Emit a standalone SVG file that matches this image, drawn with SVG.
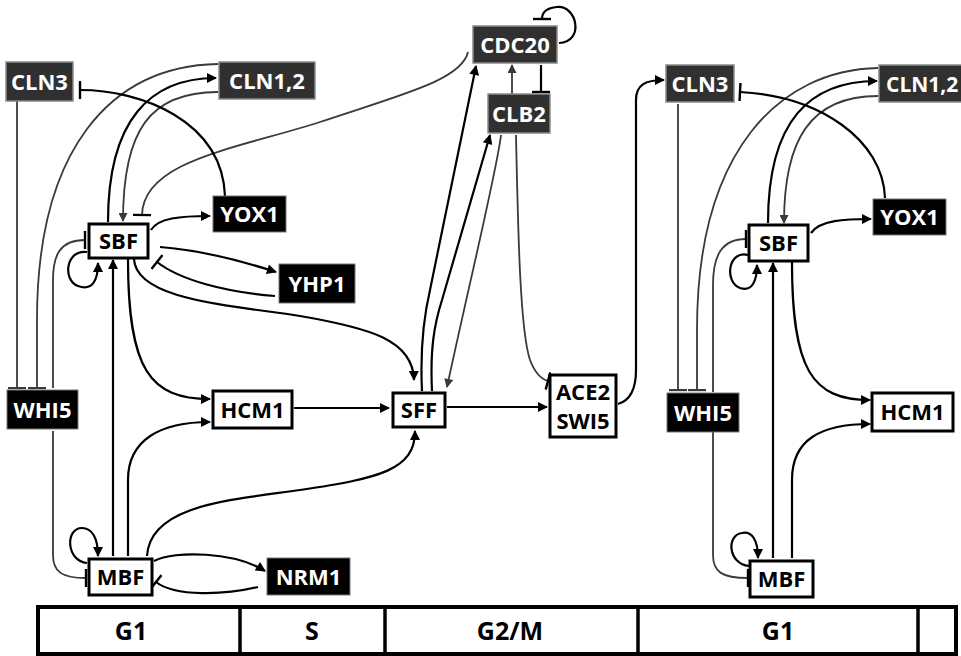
<svg xmlns="http://www.w3.org/2000/svg" width="961" height="656" viewBox="0 0 961 656">
<style>
text{font-family:"Open Sans","Liberation Sans",Arial,sans-serif;font-weight:700;text-anchor:middle}
.nt{font-size:22px}
.w{fill:#fff}
.k{fill:#000}
.dk rect{fill:#303030;stroke:#8a8a8a;stroke-width:1.5}
.bk rect{fill:#000;stroke:#777;stroke-width:1}
.wt rect{fill:#fff;stroke:#000;stroke-width:3}
.c path{fill:none;stroke:#000;stroke-width:2.2}
.c path.g{stroke:#3a3a3a;stroke-width:1.8}
.a{marker-end:url(#arr)}
.ag{marker-end:url(#arrG)}
.t{marker-end:url(#tee)}
.tg{marker-end:url(#teeG)}
.bar{fill:none;stroke:#000;stroke-width:4}
.ph{font-size:25px}
</style>
<defs>
<marker id="arr" viewBox="0 0 10 10" refX="9" refY="5" markerWidth="12" markerHeight="10" orient="auto" markerUnits="userSpaceOnUse"><path d="M0,0 L10,5 L0,10 z" fill="#000"/></marker>
<marker id="arrG" viewBox="0 0 10 10" refX="9" refY="5" markerWidth="11" markerHeight="9" orient="auto" markerUnits="userSpaceOnUse"><path d="M0,0 L10,5 L0,10 z" fill="#3a3a3a"/></marker>
<marker id="tee" viewBox="0 0 4 18" refX="2" refY="9" markerWidth="4" markerHeight="18" orient="auto" markerUnits="userSpaceOnUse"><rect x="0.8" y="0" width="2.4" height="18" fill="#000"/></marker>
<marker id="teeG" viewBox="0 0 4 18" refX="2" refY="9" markerWidth="4" markerHeight="18" orient="auto" markerUnits="userSpaceOnUse"><rect x="1" y="0" width="2.2" height="18" fill="#3a3a3a"/></marker>
</defs>
<rect width="961" height="656" fill="#fff"/>

<g id="connectors" class="c">
<!-- left cycle -->
<path class="g tg" d="M17,101 L17,388"/>
<path class="g tg" d="M218,64 C110,66 37,150 37,320 L37,388"/>
<path class="a" d="M108,222 C108,120 150,78 216,78"/>
<path class="g ag" d="M218,92 C150,92 123,130 123,221"/>
<path class="g t" d="M468,52 C462,80 400,95 320,122 C240,148 143,160 142,215"/>
<path class="t" d="M225,196 C222,120 140,90 80,90"/>
<path class="a" d="M151,230 C158,218 180,216 210,216"/>
<path class="a" d="M160,247 C200,250 245,262 276,272"/>
<path class="t" d="M275,296 C225,292 180,280 157,262"/>
<path class="a" d="M134,259 C136,300 230,305 300,316 C370,328 413,340 414,380"/>
<path class="a" d="M128,259 C128,370 150,399 210,399"/>
<path class="g t" d="M53,388 L53,280 C53,255 60,240 85,240"/>
<path class="a" d="M87,252 C66,249 62,280 78,286 C92,291 98,281 98,263"/>
<path class="a" d="M113,556 L113,260"/>
<path class="a" d="M87,563 C66,561 65,528 82,528 C92,528 98,538 98,556"/>
<path class="g t" d="M53,431 L53,555 C53,572 62,578 86,578"/>
<path class="a" d="M128,556 L128,480 C128,440 160,422 210,422"/>
<path class="a" d="M147,556 C150,505 230,500 300,490 C380,478 415,470 415,431"/>
<path class="a" d="M154,561 C175,550 235,552 265,571"/>
<path class="t" d="M258,587 C225,595 175,597 156,582"/>
<path class="a" d="M294,408 L389,408"/>
<path class="a" d="M447,407 L547,407"/>
<!-- middle -->
<path class="a" d="M422,391 C420,350 423,320 430,290 L476,66"/>
<path class="a" d="M432,391 C430,350 434,325 442,300 L490,135"/>
<path class="g ag" d="M501,135 C497,170 470,280 447,387"/>
<path class="g t" d="M516,135 C518,230 520,330 530,360 Q537,378 548,381"/>
<path class="g ag" d="M512,94 L512,65"/>
<path class="t" d="M541,65 L541,92"/>
<path class="t" d="M559,43 C585,42 577,5 557,7 C546,8 542,12 542,19"/>
<path class="a" d="M618,404 C632,400 636,385 636,370 L636,100 C636,85 645,80 664,80"/>
<!-- right cycle -->
<path class="g tg" d="M678,104 L678,390"/>
<path class="g tg" d="M878,68 C780,70 697,150 697,330 L697,390"/>
<path class="a" d="M768,223 C768,120 810,81 877,81"/>
<path class="g ag" d="M878,96 C810,96 784,140 784,223"/>
<path class="t" d="M885,198 C883,140 820,96 740,92"/>
<path class="a" d="M811,233 C820,220 845,219 871,219"/>
<path class="g t" d="M713,392 L713,285 C713,255 722,239 746,239"/>
<path class="a" d="M748,255 C728,250 724,282 740,288 C752,292 757,281 757,265"/>
<path class="a" d="M773,558 L773,263"/>
<path class="a" d="M792,262 C792,370 812,400 870,400"/>
<path class="a" d="M792,558 L792,480 C792,440 820,424 870,424"/>
<path class="g t" d="M713,432 L713,555 C713,572 722,578 748,578"/>
<path class="a" d="M749,566 C728,564 726,535 742,533 C752,531 758,540 758,558"/>
</g>

<g id="CLN3_L" class="dk"><rect x="6" y="62" width="67" height="39"/><text class="nt w" x="39.5" y="89.5">CLN3</text></g>
<g id="CLN12_L" class="dk"><rect x="219" y="62" width="96" height="37"/><text class="nt w" x="267" y="88.5">CLN1,2</text></g>
<g id="SBF_L" class="wt"><rect x="89" y="224" width="59" height="34"/><text class="nt k" x="118.5" y="249">SBF</text></g>
<g id="YOX1_L" class="bk"><rect x="213" y="196" width="73" height="36"/><text class="nt w" x="249.5" y="222">YOX1</text></g>
<g id="YHP1" class="bk"><rect x="279" y="264" width="76" height="39"/><text class="nt w" x="317" y="291.5">YHP1</text></g>
<g id="WHI5_L" class="bk"><rect x="7" y="390" width="71" height="39"/><text class="nt w" x="42.5" y="417.5">WHI5</text></g>
<g id="HCM1_L" class="wt"><rect x="213" y="391" width="79" height="37"/><text class="nt k" x="252.5" y="417.5">HCM1</text></g>
<g id="MBF_L" class="wt"><rect x="89" y="559" width="63" height="36"/><text class="nt k" x="120.5" y="585">MBF</text></g>
<g id="NRM1" class="bk"><rect x="267" y="558" width="83" height="37"/><text class="nt w" x="308.5" y="584.5">NRM1</text></g>
<g id="SFF" class="wt"><rect x="393" y="393" width="52" height="34"/><text class="nt k" x="419" y="418">SFF</text></g>
<g id="ACE2_SWI5" class="wt"><rect x="550" y="375" width="66" height="62"/><text class="nt k" x="583" y="400">ACE2</text><text class="nt k" x="583" y="429">SWI5</text></g>
<g id="CDC20" class="dk"><rect x="473" y="26" width="84" height="37"/><text class="nt w" x="515" y="52.5">CDC20</text></g>
<g id="CLB2" class="dk"><rect x="488" y="94" width="62" height="39"/><text class="nt w" x="519" y="121.5">CLB2</text></g>
<g id="CLN3_R" class="dk"><rect x="666" y="65" width="68" height="37"/><text class="nt w" x="700" y="91.5">CLN3</text></g>
<g id="CLN12_R" class="dk"><rect x="879" y="65" width="90" height="37"/><text class="w" x="886" y="91.5" style="text-anchor:start;font-size:21px">CLN1,2</text></g>
<g id="YOX1_R" class="bk"><rect x="873" y="199" width="73" height="36"/><text class="nt w" x="909.5" y="225">YOX1</text></g>
<g id="SBF_R" class="wt"><rect x="749" y="225" width="59" height="36"/><text class="nt k" x="778.5" y="251">SBF</text></g>
<g id="WHI5_R" class="bk"><rect x="667" y="393" width="72" height="39"/><text class="nt w" x="703" y="420.5">WHI5</text></g>
<g id="HCM1_R" class="wt"><rect x="872" y="393" width="81" height="38"/><text class="nt k" x="912.5" y="420">HCM1</text></g>
<g id="MBF_R" class="wt"><rect x="750" y="561" width="63" height="36"/><text class="nt k" x="781.5" y="587">MBF</text></g>

<g id="phases">
<rect class="bar" x="38" y="607" width="918" height="47"/>
<path d="M240,607 V654 M385,607 V654 M638,607 V654 M918,607 V654" stroke="#000" stroke-width="3.5" fill="none"/>
<text class="ph k" x="131" y="640">G1</text>
<text class="ph k" x="312" y="640">S</text>
<text class="ph k" x="510" y="640">G2/M</text>
<text class="ph k" x="778" y="640">G1</text>
</g>
</svg>
